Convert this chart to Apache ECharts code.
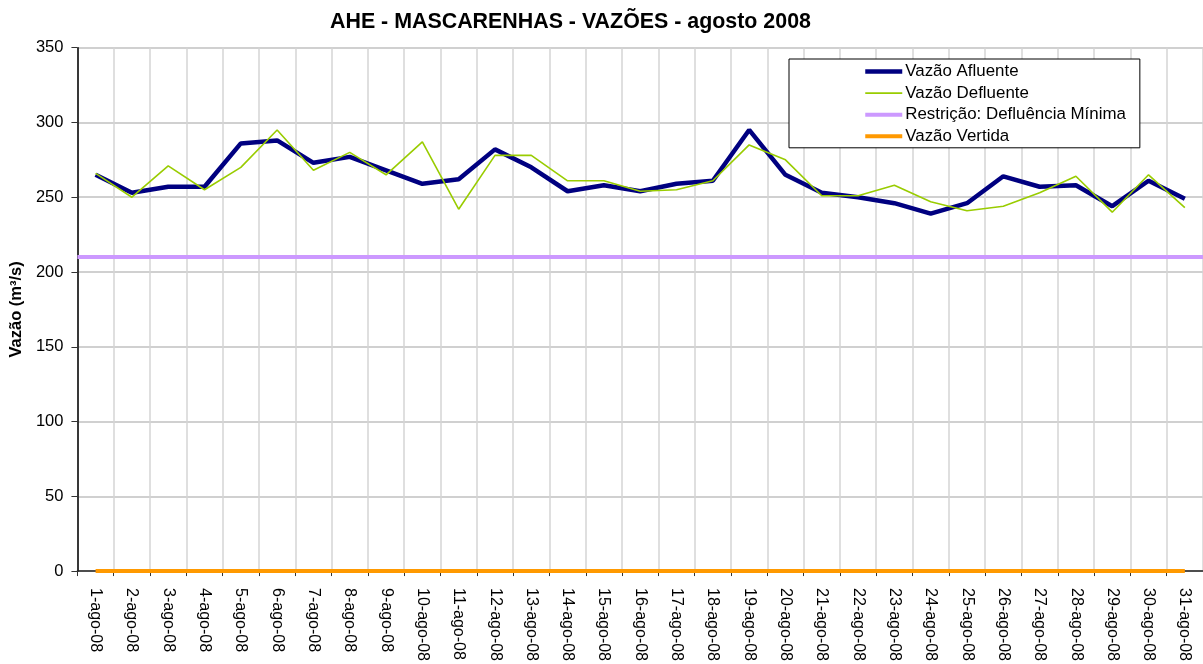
<!DOCTYPE html>
<html>
<head>
<meta charset="utf-8">
<script src="https://cdn.jsdelivr.net/npm/echarts@6/dist/echarts.min.js"></script>
<style>
html,body{margin:0;padding:0;background:#fff;}
#chart{width:1203px;height:664px;}
</style>
</head>
<body>
<div id="chart"></div>
<script>
const titleText = 'AHE - MASCARENHAS - VAZÕES - agosto 2008';
const yAxisName = 'Vazão (m³/s)';
const categories = ['1-ago-08','2-ago-08','3-ago-08','4-ago-08','5-ago-08','6-ago-08','7-ago-08','8-ago-08','9-ago-08','10-ago-08',
  '11-ago-08','12-ago-08','13-ago-08','14-ago-08','15-ago-08','16-ago-08','17-ago-08','18-ago-08','19-ago-08','20-ago-08',
  '21-ago-08','22-ago-08','23-ago-08','24-ago-08','25-ago-08','26-ago-08','27-ago-08','28-ago-08','29-ago-08','30-ago-08','31-ago-08'];
const vazaoAfluente = [265,253,257,257,286,288,273,277,268,259,262,282,270,254,258,254,259,261,295,265,253,250,246,239,246,264,257,258,244,261,249];
const vazaoDefluente = [266,250,271,255,270,295,268,280,265,287,242,278,278,261,261,254,255,261,285,275,251,251,258,247,241,244,253,264,240,265,243];
const restricaoMinima = [210,210,210,210,210,210,210,210,210,210,210,210,210,210,210,210,210,210,210,210,210,210,210,210,210,210,210,210,210,210,210];
const vazaoVertida = [0,0,0,0,0,0,0,0,0,0,0,0,0,0,0,0,0,0,0,0,0,0,0,0,0,0,0,0,0,0,0];
const yTicks = {min: 0, max: 350, interval: 50};

const FONT = '"Liberation Sans", Arial, sans-serif';
const chart = echarts.init(document.getElementById('chart'), null, {renderer: 'canvas'});
chart.setOption({
  animation: false,
  backgroundColor: '#ffffff',
  title: {
    text: titleText,
    left: 330, top: 12,
    padding: 0,
    textStyle: {fontFamily: FONT, fontWeight: 'bold', fontSize: 21.4, color: '#000'}
  },
  legend: {
    orient: 'vertical',
    left: 789, top: 59,
    padding: [4, 14, 3, 74],
    borderColor: '#000', borderWidth: 1,
    backgroundColor: '#fff',
    itemWidth: 37, itemHeight: 16, itemGap: 4.6,
    align: 'left',
    itemStyle: {opacity: 0},
    textStyle: {fontFamily: FONT, fontSize: 16.9, color: '#000', padding: [0,0,0,-2]},
    data: [
      {name: 'Vazão Afluente', lineStyle: {width: 4.5, color: '#000080'}},
      {name: 'Vazão Defluente', lineStyle: {width: 1.6, color: '#99cc00'}},
      {name: 'Restrição: Defluência Mínima', lineStyle: {width: 4, color: '#cc99ff'}},
      {name: 'Vazão Vertida', lineStyle: {width: 4, color: '#ff9900'}}
    ]
  },
  grid: {left: 76.7, top: 47.7, right: -2.8, bottom: 90.7, containLabel: false},
  xAxis: {
    type: 'category',
    data: categories,
    boundaryGap: true,
    axisLine: {lineStyle: {color: '#222', width: 1.5}},
    axisTick: {show: true, length: 5, lineStyle: {color: '#333'}},
    axisLabel: {rotate: -90, fontFamily: FONT, fontSize: 16, color: '#000', margin: 17, interval: 0},
    splitLine: {show: true, lineStyle: {color: '#d4d4d4', width: 1.5}}
  },
  yAxis: {
    type: 'value',
    min: yTicks.min, max: yTicks.max, interval: yTicks.interval,
    name: yAxisName,
    nameLocation: 'middle',
    nameGap: 50,
    nameTextStyle: {fontFamily: FONT, fontWeight: 'bold', fontSize: 16.5, color: '#000'},
    axisLine: {show: true, lineStyle: {color: '#000', width: 1.5}},
    axisTick: {show: true, length: 6, lineStyle: {color: '#333'}},
    axisLabel: {fontFamily: FONT, fontSize: 16.5, color: '#000', margin: 14},
    splitLine: {show: true, lineStyle: {color: '#c0c0c0', width: 1.5}}
  },
  series: [
    {name: 'Vazão Afluente', type: 'line', data: vazaoAfluente, symbol: 'none',
     color: '#000080', lineStyle: {color: '#000080', width: 4.5}},
    {name: 'Vazão Defluente', type: 'line', data: vazaoDefluente, symbol: 'none',
     color: '#99cc00', lineStyle: {color: '#99cc00', width: 1.6}},
    {name: 'Restrição: Defluência Mínima', type: 'line', data: restricaoMinima, symbol: 'none',
     color: '#cc99ff', lineStyle: {color: '#cc99ff', width: 4},
     markLine: {silent: true, symbol: 'none', label: {show: false},
       lineStyle: {color: '#cc99ff', width: 4, type: 'solid'},
       data: [{yAxis: restricaoMinima[0]}]}},
    {name: 'Vazão Vertida', type: 'line', data: vazaoVertida, symbol: 'none',
     color: '#ff9900', lineStyle: {color: '#ff9900', width: 4}}
  ]
});
</script>
</body>
</html>
